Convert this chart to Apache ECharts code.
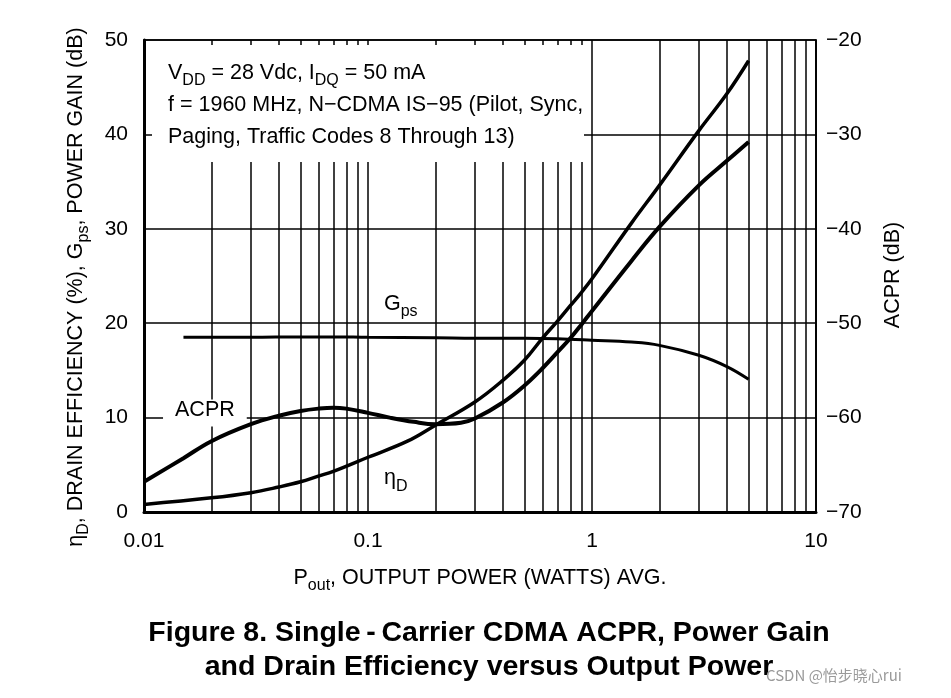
<!DOCTYPE html>
<html>
<head>
<meta charset="utf-8">
<title>Figure 8</title>
<script src="https://cdn.jsdelivr.net/npm/echarts@6/dist/echarts.min.js"></script>
<style>
  html, body { margin: 0; padding: 0; background: #fff; }
  #chart { width: 951px; height: 698px; }
</style>
</head>
<body>
<div id="chart"></div>
<script>
// Pout (W) and readings taken off the figure
const etaPout = [0.01, 0.02, 0.03, 0.04, 0.05, 0.06, 0.07, 0.1, 0.15, 0.2, 0.3, 0.4, 0.5, 0.6, 0.7, 0.8, 0.9, 1, 1.5, 2, 3, 4, 5];
const etaValues = [0.8, 1.5, 2.05, 2.65, 3.2, 3.8, 4.3, 5.8, 7.5, 9.2, 11.65, 13.95, 16.1, 18.4, 20.2, 21.85, 23.3, 24.7, 30.6, 34.6, 40.4, 44.3, 47.8];

const acprPout = [0.01, 0.015, 0.02, 0.03, 0.04, 0.05, 0.06, 0.07, 0.08, 0.1, 0.125, 0.16, 0.2, 0.26, 0.3, 0.4, 0.5, 0.6, 0.7, 0.8, 0.9, 1, 1.5, 2, 3, 4, 5];
const acprValues = [-66.8, -64.3, -62.5, -60.7, -59.8, -59.3, -59.05, -58.95, -59.05, -59.5, -60.0, -60.45, -60.7, -60.55, -60.1, -58.4, -56.6, -54.8, -53.1, -51.6, -50.1, -48.7, -43.4, -39.8, -35.4, -32.8, -30.8];

const gpsPout = [0.015, 0.02, 0.03, 0.05, 0.07, 0.1, 0.2, 0.3, 0.5, 0.7, 1, 1.5, 2, 3, 4, 5];
const gpsValues = [18.5, 18.5, 18.5, 18.55, 18.55, 18.5, 18.45, 18.4, 18.4, 18.35, 18.2, 18.0, 17.65, 16.6, 15.4, 14.05];

// vertical grid at 2..9 of each decade
const minorLines = [0.02, 0.03, 0.04, 0.05, 0.06, 0.07, 0.08, 0.09,
  0.2, 0.3, 0.4, 0.5, 0.6, 0.7, 0.8, 0.9,
  2, 3, 4, 5, 6, 7, 8, 9];

const FONT = '"Liberation Sans", Arial, sans-serif';

// main text sits 5px higher than the subscripts
const richText = {
  m: {fontFamily: FONT, fontSize: 21.5, color: '#000', verticalAlign: 'bottom', padding: [0, 0, 5, 0]},
  s: {fontFamily: FONT, fontSize: 16, color: '#000', verticalAlign: 'bottom'}
};
const richFill = {
  m: {fontFamily: FONT, fontSize: 21.5, fill: '#000', verticalAlign: 'bottom', padding: [0, 0, 5, 0], lineHeight: 32},
  s: {fontFamily: FONT, fontSize: 16, fill: '#000', verticalAlign: 'bottom'}
};

const pairs = (xs, ys) => xs.map((x, i) => [x, ys[i]]);

const curveLabel = (text, coord, pad) => ({
  coord: coord,
  symbol: 'circle',
  symbolSize: 1,
  itemStyle: {color: 'rgba(0,0,0,0)'},
  label: {
    show: true,
    position: 'inside',
    formatter: text,
    backgroundColor: '#fff',
    padding: pad,
    rich: richText
  }
});

const chart = echarts.init(document.getElementById('chart'));

const option = {
  animation: false,
  backgroundColor: '#fff',
  title: {
    text: 'Figure 8. Single\u2009-\u2009Carrier CDMA ACPR, Power Gain\nand Drain Efficiency versus Output Power',
    left: 484,
    top: 611,
    textAlign: 'center',
    textStyle: {fontFamily: FONT, fontWeight: 'bold', fontSize: 28.5, lineHeight: 34, color: '#000'}
  },
  grid: {
    left: 144, right: 135, top: 40, bottom: 186,
    show: true, borderColor: '#000', borderWidth: 1.5, backgroundColor: 'transparent'
  },
  xAxis: {
    type: 'log',
    logBase: 10,
    min: 0.01,
    max: 10,
    name: '{m|P}{s|out}{m|, OUTPUT POWER (WATTS) AVG.}',
    nameLocation: 'middle',
    nameGap: 55,
    nameTextStyle: {rich: richText},
    axisLine: {show: true, lineStyle: {color: '#000', width: 3}},
    axisTick: {show: false},
    axisLabel: {
      fontFamily: FONT, fontSize: 21, color: '#000', margin: 19,
      formatter: v => String(+v.toPrecision(3))
    },
    splitLine: {show: true, lineStyle: {color: '#000', width: 1.5}}
  },
  yAxis: [
    {
      type: 'value',
      min: 0, max: 50, interval: 10,
      axisLine: {show: true, lineStyle: {color: '#000', width: 3}},
      axisTick: {show: false},
      axisLabel: {fontFamily: FONT, fontSize: 21, color: '#000', margin: 16},
      splitLine: {show: true, lineStyle: {color: '#000', width: 1.5}}
    },
    {
      type: 'value',
      position: 'right',
      min: -70, max: -20, interval: 10,
      axisLine: {show: true, lineStyle: {color: '#000', width: 1.5}},
      axisTick: {show: false},
      axisLabel: {
        fontFamily: FONT, fontSize: 21, color: '#000', margin: 10,
        formatter: v => '\u2212' + Math.abs(v)
      },
      splitLine: {show: false}
    }
  ],
  graphic: [
    // white box behind the test conditions
    {
      type: 'rect', z: 20,
      shape: {x: 152, y: 45, width: 432, height: 117},
      style: {fill: '#fff'}
    },
    {
      type: 'text', z: 21,
      x: 168, y: 57,
      style: {
        text: '{m|V}{s|DD}{m| = 28 Vdc, I}{s|DQ}{m| = 50 mA}\n' +
          '{m|f = 1960 MHz, N\u2212CDMA IS\u221295 (Pilot, Sync,}\n' +
          '{m|Paging, Traffic Codes 8 Through 13)}',
        rich: richFill
      }
    },
    {
      type: 'text', z: 21,
      x: 76, y: 287,
      rotation: Math.PI / 2,
      style: {
        text: '{m|\u03b7}{s|D}{m|, DRAIN EFFICIENCY (%), G}{s|ps}{m|, POWER GAIN (dB)}',
        align: 'center',
        verticalAlign: 'middle',
        rich: richFill
      }
    },
    {
      type: 'text', z: 21,
      x: 893, y: 275,
      rotation: Math.PI / 2,
      style: {
        text: 'ACPR (dB)',
        align: 'center',
        verticalAlign: 'middle',
        font: '21.5px ' + FONT,
        fill: '#000'
      }
    },
    {
      type: 'text', z: 21,
      left: 766, top: 668,
      style: {
        text: 'CSDN @怡步晓心rui',
        font: '15px "Noto Sans CJK SC", "Liberation Sans", sans-serif',
        fill: '#9a9a9a'
      }
    }
  ],
  series: [
    {
      name: 'ηD',
      type: 'line',
      yAxisIndex: 0,
      data: pairs(etaPout, etaValues),
      smooth: 0.4,
      showSymbol: false,
      symbol: 'none',
      z: 6,
      lineStyle: {color: '#000', width: 3.5},
      markLine: {
        silent: true,
        z: 1,
        symbol: 'none',
        label: {show: false},
        lineStyle: {color: '#000', width: 1.5, type: 'solid'},
        data: minorLines.map(v => ({xAxis: v}))
      },
      markPoint: {
        z: 4,
        data: [curveLabel('{m|\u03b7}{s|D}', [0.133, 3.4], [4, 8, 2, 8])]
      }
    },
    {
      name: 'ACPR',
      type: 'line',
      yAxisIndex: 1,
      data: pairs(acprPout, acprValues),
      smooth: 0.4,
      showSymbol: false,
      symbol: 'none',
      z: 6,
      lineStyle: {color: '#000', width: 4},
      markPoint: {
        z: 4,
        data: [curveLabel('{m|ACPR}', [0.0187, -59.5], [0, 12, 0, 12])]
      }
    },
    {
      name: 'Gps',
      type: 'line',
      yAxisIndex: 0,
      data: pairs(gpsPout, gpsValues),
      smooth: 0.4,
      showSymbol: false,
      symbol: 'none',
      z: 6,
      lineStyle: {color: '#000', width: 3},
      markPoint: {
        z: 4,
        data: [curveLabel('{m|G}{s|ps}', [0.14, 21.9], [2, 10, 0, 10])]
      }
    }
  ]
};

chart.setOption(option);
window.addEventListener('resize', () => chart.resize());
</script>
</body>
</html>
